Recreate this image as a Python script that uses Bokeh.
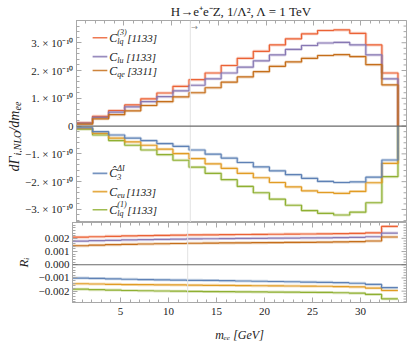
import numpy as np
from bokeh.plotting import figure
from bokeh.layouts import column, row
from bokeh.models import Range1d, Span, Label, BoxAnnotation, LinearAxis, FixedTicker, CustomJSTickFormatter
from bokeh.embed import file_html
from bokeh.resources import INLINE

# ---------------- data ----------------
# bin edges in m_ee [GeV] (last edge = end of plotted range, where curves sit at zero)
edges = [0.0, 1.695, 3.39, 5.085, 6.78, 8.475, 10.17, 11.865, 13.56, 15.255, 16.95,
         18.645, 20.34, 22.035, 23.73, 25.425, 27.12, 28.815, 30.51, 32.205, 33.9, 34.8]

# dGamma_i,NLO/dm_ee in units of 1e-10 (20 bins, then a trailing zero bin)
c_lq3 = [0.12, 0.35, 0.56, 0.76, 0.98, 1.19, 1.43, 1.67, 1.91, 2.18, 2.44, 2.69, 2.92, 3.14, 3.32, 3.44, 3.46, 3.34, 2.92, 1.91, 0.0]
c_lu  = [0.10, 0.31, 0.50, 0.69, 0.88, 1.06, 1.27, 1.47, 1.70, 1.91, 2.12, 2.35, 2.56, 2.76, 2.90, 2.99, 3.01, 2.92, 2.56, 1.70, 0.0]
c_qe  = [0.07, 0.26, 0.41, 0.55, 0.74, 0.88, 1.05, 1.20, 1.38, 1.58, 1.77, 1.96, 2.15, 2.31, 2.44, 2.54, 2.57, 2.50, 2.21, 1.48, 0.0]
c_3h  = [-0.06, -0.20, -0.32, -0.43, -0.52, -0.63, -0.73, -0.86, -1.01, -1.15, -1.31, -1.47, -1.61, -1.75, -1.88, -1.99, -2.03, -2.01, -1.84, -1.22, 0.0]
c_eu  = [-0.08, -0.26, -0.43, -0.57, -0.69, -0.83, -0.99, -1.17, -1.36, -1.52, -1.70, -1.86, -2.03, -2.19, -2.33, -2.39, -2.42, -2.35, -2.04, -1.34, 0.0]
c_lq1 = [-0.11, -0.32, -0.52, -0.69, -0.86, -1.03, -1.23, -1.48, -1.70, -1.93, -2.17, -2.40, -2.63, -2.85, -3.04, -3.14, -3.20, -3.10, -2.76, -1.82, 0.0]

# ratios R_i (20 bins)
r_lq3 = [0.00209, 0.00212, 0.00215, 0.00218, 0.00220, 0.00222, 0.00224, 0.00226, 0.00227, 0.00228,
         0.00229, 0.00230, 0.00231, 0.00232, 0.00233, 0.00234, 0.00235, 0.00237, 0.00242, 0.00290]
r_lu  = [0.00179, 0.00182, 0.00185, 0.00188, 0.00190, 0.00192, 0.00194, 0.00196, 0.00197, 0.00198,
         0.00199, 0.00200, 0.00201, 0.00202, 0.00203, 0.00204, 0.00206, 0.00208, 0.00212, 0.00240]
r_qe  = [0.00144, 0.00148, 0.00152, 0.00155, 0.00157, 0.00159, 0.00161, 0.00163, 0.00164, 0.00165,
         0.00166, 0.00167, 0.00168, 0.00169, 0.00170, 0.00171, 0.00173, 0.00175, 0.00180, 0.00210]
r_3h  = [-0.00101, -0.00104, -0.00107, -0.00110, -0.00112, -0.00114, -0.00116, -0.00118, -0.00119, -0.00121,
         -0.00123, -0.00125, -0.00127, -0.00129, -0.00131, -0.00133, -0.00136, -0.00140, -0.00149, -0.00174]
r_eu  = [-0.00144, -0.00146, -0.00148, -0.00150, -0.00151, -0.00152, -0.00153, -0.00155, -0.00156, -0.00157,
         -0.00158, -0.00159, -0.00160, -0.00161, -0.00162, -0.00163, -0.00165, -0.00168, -0.00177, -0.00195]
r_lq1 = [-0.00185, -0.00189, -0.00192, -0.00195, -0.00197, -0.00199, -0.00200, -0.00202, -0.00203, -0.00204,
         -0.00205, -0.00206, -0.00207, -0.00208, -0.00209, -0.00210, -0.00212, -0.00215, -0.00225, -0.00258]

cut = 12.0
top_ticks = [-3, -2, -1, 0, 1, 2, 3]
top_tick_labels = ["−3. × 10⁻¹⁰", "−2. × 10⁻¹⁰", "−1. × 10⁻¹⁰", "0", "1. × 10⁻¹⁰", "2. × 10⁻¹⁰", "3. × 10⁻¹⁰"]
top_minor = [round(-3.4 + 0.2 * i, 2) for i in range(37)]
bot_ticks = [-0.002, -0.001, 0.0, 0.001, 0.002]
bot_tick_labels = ["−0.002", "−0.001", "0.000", "0.001", "0.002"]
bot_minor = [round(-0.0028 + 0.0002 * i, 5) for i in range(30)]
x_ticks = [5, 10, 15, 20, 25, 30]
x_minor = list(range(0, 35))

# Mathematica default palette
COL = {"lq3": "#EB6235", "lu": "#8778B3", "qe": "#C56E1A",
       "3h": "#5E81B5", "eu": "#E19C24", "lq1": "#8FB032"}

SERIF = "Liberation Serif"
FRAME = "#a8a8a8"
LABEL = "#222222"
X_RANGE = (0, 34.8)
Y1_RANGE = (-3.47, 3.80)
Y2_RANGE = (-0.00286, 0.0032)
EMPTY = CustomJSTickFormatter(code="return ''")

W = 407
STRIP = 22
LEFT = 50
RIGHT = 1
FRAME_W = W - STRIP - LEFT - RIGHT
PX_PER_X = FRAME_W / (X_RANGE[1] - X_RANGE[0])
H1 = 222
H2 = 123


def tick_style(ax):
    ax.axis_line_color = FRAME
    ax.major_tick_line_color = FRAME
    ax.minor_tick_line_color = FRAME
    ax.major_tick_in = 5
    ax.major_tick_out = 0
    ax.minor_tick_in = 3
    ax.minor_tick_out = 0
    ax.major_label_text_font = SERIF
    ax.major_label_text_font_size = "11px"
    ax.major_label_text_color = LABEL
    ax.major_label_standoff = 3


def top_mirror(p, ticker):
    ax = LinearAxis(ticker=ticker)
    tick_style(ax)
    ax.formatter = EMPTY
    ax.major_label_text_font_size = "1px"
    ax.major_label_standoff = 0
    p.add_layout(ax, "above")


def right_ticks(p, majors, minors, yr):
    # inward ticks along the right frame edge
    p.outline_line_color = FRAME
    mj = [t for t in majors if yr[0] < t < yr[1]]
    mn = [t for t in minors if yr[0] < t < yr[1] and t not in mj]
    xr = X_RANGE[1]
    p.segment(x0=[xr - 5 / PX_PER_X] * len(mj), y0=mj, x1=[xr] * len(mj), y1=mj,
              line_color=FRAME, line_width=1)
    p.segment(x0=[xr - 3 / PX_PER_X] * len(mn), y0=mn, x1=[xr] * len(mn), y1=mn,
              line_color=FRAME, line_width=1)


def steps(p, xs, ys, color):
    p.step(xs, ys, mode="after", line_color=color, line_width=3.0, line_alpha=0.28)
    p.step(xs, ys, mode="after", line_color=color, line_width=1.2)


def mlabel(p, x, y, pieces, angle=0.0):
    # pieces: (text, dx, dy, size)
    for txt, dx, dy, size in pieces:
        p.add_layout(Label(x=x, y=y, text=txt, x_offset=dx, y_offset=dy, angle=angle,
                           text_font=SERIF, text_font_style="italic", text_font_size=f"{size}px",
                           text_color=LABEL, text_baseline="middle", text_align="left"))


# ---------------- top panel ----------------
p1 = figure(width=W - STRIP, height=H1, x_range=Range1d(*X_RANGE), y_range=Range1d(*Y1_RANGE),
            output_backend="svg", toolbar_location=None, x_axis_location=None,
            min_border_left=LEFT, min_border_right=RIGHT, min_border_top=0, min_border_bottom=0,
            title="H→e⁺e⁻Z, 1/Λ², Λ = 1 TeV")
p1.title.text_font = SERIF
p1.title.text_font_style = "normal"
p1.title.text_font_size = "13px"
p1.title.text_color = LABEL
p1.title.align = "center"
p1.title.standoff = 3
p1.title.offset = 0
p1.grid.visible = False
y1_ticker = FixedTicker(ticks=top_ticks, minor_ticks=top_minor)
x_ticker = FixedTicker(ticks=x_ticks, minor_ticks=x_minor)
p1.yaxis.ticker = y1_ticker
p1.yaxis.major_label_overrides = {t: l for t, l in zip(top_ticks, top_tick_labels)}
tick_style(p1.yaxis[0])
top_mirror(p1, x_ticker)
right_ticks(p1, top_ticks, top_minor, Y1_RANGE)

p1.add_layout(Span(location=cut, dimension="height", line_color="#e2e2e2", line_width=1))
p1.add_layout(Span(location=0, dimension="width", line_color="#6a6a6a", line_width=1.2))
p1.add_layout(Label(x=cut, y=3.55, text="→", text_font="DejaVu Sans", text_font_size="8px",
                    text_color="#888888", x_offset=1, text_baseline="middle"))

for ys, key in ((c_lq1, "lq1"), (c_eu, "eu"), (c_3h, "3h"), (c_lq3, "lq3"), (c_lu, "lu"), (c_qe, "qe")):
    steps(p1, edges, ys, COL[key])

# legend (custom, with sub/superscripts)
leg = [("lq3", 3.18, [("C", 0, 0, 12), ("lq", 8, -4, 8), ("(3)", 8, 5, 8), ("[1133]", 18, 0, 11)]),
       ("lu", 2.50, [("C", 0, 0, 12), ("lu", 8, -4, 8), ("[1133]", 17, 0, 11)]),
       ("qe", 2.00, [("C", 0, 0, 12), ("qe", 8, -4, 8), ("[3311]", 18, 0, 11)]),
       ("3h", -1.70, [("Ĉ", 0, 0, 12), ("3", 8, -4, 8), ("ΔI", 8, 5, 8)]),
       ("eu", -2.36, [("C", 0, 0, 12), ("eu", 8, -4, 8), ("[1133]", 17, 0, 11)]),
       ("lq1", -3.01, [("C", 0, 0, 12), ("lq", 8, -4, 8), ("(1)", 8, 5, 8), ("[1133]", 18, 0, 11)])]
for key, yy, pieces in leg:
    p1.add_layout(BoxAnnotation(left=1.7, right=3.25, bottom=yy - 0.03, top=yy + 0.03,
                                fill_color=COL[key], fill_alpha=0.85, line_color=None))
    mlabel(p1, 3.45, yy, pieces)

# narrow strip holding the rotated y label  dΓ_{i,NLO}/dm_ee
pl = figure(width=STRIP, height=H1, x_range=Range1d(0, 1), y_range=Range1d(0, H1),
            output_backend="svg", toolbar_location=None, x_axis_location=None, y_axis_location=None,
            min_border_left=0, min_border_right=0, min_border_top=0, min_border_bottom=0)
pl.grid.visible = False
pl.outline_line_color = None
mlabel(pl, 0.62, 56, [("dΓ", 0, 0, 14), ("i,NLO", 3, 16, 10), ("/dm", 0, 40, 14), ("ee", 3, 61, 10)],
       angle=np.pi / 2)

# ---------------- bottom panel ----------------
p2 = figure(width=W, height=H2, x_range=p1.x_range, y_range=Range1d(*Y2_RANGE),
            output_backend="svg", toolbar_location=None,
            min_border_left=STRIP + LEFT, min_border_right=RIGHT, min_border_top=0, min_border_bottom=43)
p2.grid.visible = False
y2_ticker = FixedTicker(ticks=bot_ticks, minor_ticks=bot_minor)
p2.yaxis.ticker = y2_ticker
p2.yaxis.major_label_overrides = {t: l for t, l in zip(bot_ticks, bot_tick_labels)}
p2.xaxis.ticker = x_ticker
tick_style(p2.yaxis[0])
tick_style(p2.xaxis[0])
p2.xaxis.major_label_standoff = 5
top_mirror(p2, x_ticker)
right_ticks(p2, bot_ticks, bot_minor, Y2_RANGE)

xa = p2.below[0]
xa.axis_label = "mₑₑ [GeV]"
xa.axis_label_text_font = SERIF
xa.axis_label_text_font_style = "italic"
xa.axis_label_text_font_size = "12px"
xa.axis_label_text_color = LABEL
xa.axis_label_standoff = 10
ya = p2.left[0]
ya.axis_label = "Rᵢ"
ya.axis_label_text_font = SERIF
ya.axis_label_text_font_style = "italic"
ya.axis_label_text_font_size = "13px"
ya.axis_label_text_color = LABEL
ya.axis_label_standoff = 5

p2.add_layout(Span(location=cut, dimension="height", line_color="#e2e2e2", line_width=1))
p2.add_layout(Span(location=0, dimension="width", line_color="#6a6a6a", line_width=1.2))

redges = edges[:21]
for ys, key in ((r_lq1, "lq1"), (r_eu, "eu"), (r_3h, "3h"), (r_lq3, "lq3"), (r_lu, "lu"), (r_qe, "qe")):
    steps(p2, redges, ys + [ys[-1]], COL[key])

layout = column(row(pl, p1, spacing=0), p2, spacing=0)
open("out.html", "w").write(file_html(layout, INLINE))
